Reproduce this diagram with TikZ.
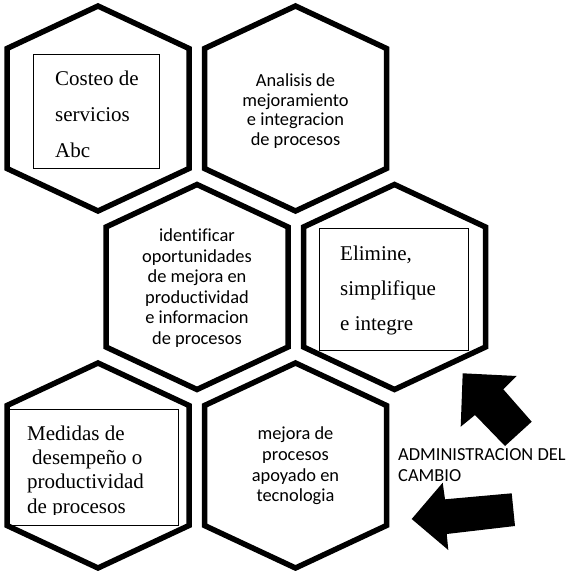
\documentclass[tikz,border=0pt]{standalone}
\usepackage{fontspec}
\setmainfont{Liberation Serif}
\newfontfamily\calibri[Ligatures=NoCommon]{Carlito}
\usetikzlibrary{positioning}

\begin{document}
\begin{tikzpicture}[x=1pt, y=-1pt,
  hexcell/.pic={\draw[line width=5.5pt, line join=miter] (0,-102.5) -- (91,-60) -- (91,60) -- (0,102.5) -- (-91,60) -- (-91,-60) -- cycle;},
  sanslabel/.style={align=center, inner sep=0pt, font=\calibri\fontsize{18.4}{#1}\selectfont},
  seriflabel/.style={align=left, inner sep=0pt, anchor=west, font=\fontsize{21}{#1}\selectfont},
  framebox/.style={draw, line width=0.8pt, inner sep=0pt},
  blockarrow/.style={fill=black}]
\useasboundingbox (0,0) rectangle (566,571);

\foreach \cx/\cy in {98/108.5, 295.5/108.5, 197/287, 394.5/287, 98/465.5, 295.5/465.5}
  \pic at (\cx,\cy) {hexcell};

% boxed texts
\node[framebox, minimum width=126pt, minimum height=114pt] (costeoBox) at (96,111) {};
\node[seriflabel=36] (costeo) at (55,114) {Costeo de\\servicios\\Abc};

\node[framebox, minimum width=149pt, minimum height=122pt] (elimineBox) at (393.5,289) {};
\node[seriflabel=35] (elimine) at (340,290) {Elimine,\\simplifique\\e integre};

\node[framebox, minimum width=171pt, minimum height=116pt] (medidasBox) at (92.5,467) {};
\begin{scope}
  \clip (7,409) rectangle (178,514.5);
  \node[seriflabel=24.3] (medidas) at (27,471.5) {Medidas de\\\hspace*{5pt}desempeño o\\productividad\\de procesos};
\end{scope}

% plain texts
\node[sanslabel=19.5] (analisis) at (295.5,111) {Analisis de\\mejoramiento\\e integracion\\de procesos};
\node[sanslabel=20.5] (oportunidades) at (197,288) {identificar\\oportunidades\\de mejora en\\productividad\\e informacion\\de procesos};
\node[sanslabel=20.7] (tecnologia) at (295.5,466) {mejora de\\procesos\\apoyado en\\tecnologia};
\node[sanslabel=21, align=left, anchor=west] (cambio) at (398,465.5) {ADMINISTRACION DEL\\CAMBIO};

% block arrows
\fill[blockarrow] (462.7,373.3) -- (516.7,376) -- (503.3,389.3) -- (531.7,421.7) -- (505,446) -- (475,415) -- (460.7,426.7) -- cycle;
\fill[blockarrow] (411.7,519) -- (442.7,482.7) -- (445,499.3) -- (511.7,493.3) -- (515,526) -- (446.7,534) -- (448.3,550) -- cycle;
\end{tikzpicture}
\end{document}
